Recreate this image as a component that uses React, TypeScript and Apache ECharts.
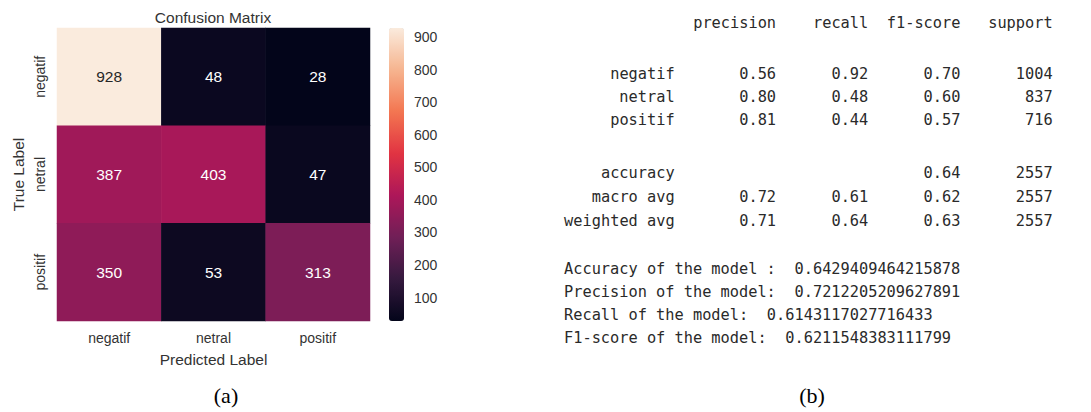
import React, { useEffect, useRef } from "react";
import * as echarts from "echarts";

// ---- Confusion matrix data ----
const classes = ["negatif", "netral", "positif"];
const matrixRows = [
  [928, 48, 28],
  [387, 403, 47],
  [350, 53, 313],
];
const colorbarTicks = [100, 200, 300, 400, 500, 600, 700, 800, 900];
const rocketColors = ["#03051A", "#35193E", "#701F57", "#AD1759", "#E13342", "#F37651", "#F6B48F", "#FAEBDD"];

// ---- Classification report data ----
const reportHeader = ["precision", "recall", "f1-score", "support"];
const classPrecision = [0.56, 0.8, 0.81];
const classRecall = [0.92, 0.48, 0.44];
const classF1 = [0.7, 0.6, 0.57];
const classSupport = [1004, 837, 716];
const summaryNames = ["accuracy", "macro avg", "weighted avg"];
const summaryPrecision: (number | null)[] = [null, 0.72, 0.71];
const summaryRecall: (number | null)[] = [null, 0.61, 0.64];
const summaryF1 = [0.64, 0.62, 0.63];
const summarySupport = [2557, 2557, 2557];
const modelLabels = ["Accuracy of the model :", "Precision of the model:", "Recall of the model:", "F1-score of the model:"];
const modelValues = ["0.6429409464215878", "0.7212205209627891", "0.6143117027716433", "0.6211548383111799"];
const captions = ["(a)", "(b)"];

const SANS = "'Liberation Sans', Arial, sans-serif";
const MONO = "'DejaVu Sans Mono', 'Liberation Mono', monospace";
const SERIF = "'Liberation Serif', 'Times New Roman', serif";
const TXT = "#333333";
const MONO_COLOR = "#2a2a2a";

export default function App() {
  const ref = useRef<HTMLDivElement>(null);

  useEffect(() => {
    document.body.style.margin = "0";
    if (!ref.current) return;
    const chart = echarts.init(ref.current, undefined, { renderer: "svg" });

    const minV = Math.min(...matrixRows.flat());
    const maxV = Math.max(...matrixRows.flat());

    const heatData: any[] = [];
    matrixRows.forEach((row, yi) =>
      row.forEach((v, xi) => {
        heatData.push({
          value: [xi, yi, v],
          label: { color: v > 700 ? "#262626" : "#ffffff" },
        });
      })
    );

    // monospace report layout
    const x0 = 564;
    const cw = 9.22;
    const colX = [12, 23, 33, 43, 53].map((c) => x0 + c * cw);
    const monoFont = `15.3px ${MONO}`;
    const graphics: any[] = [];
    const t = (text: string, x: number, y: number, align: string, font: string, fill: string) =>
      graphics.push({
        type: "text",
        x,
        y,
        silent: true,
        style: { text, font, fill, textAlign: align, textVerticalAlign: "middle", align, verticalAlign: "middle" },
      });

    reportHeader.forEach((h, i) => t(h, colX[i + 1], 23, "right", monoFont, MONO_COLOR));
    const classY = [74, 97, 120];
    classes.forEach((c, i) => {
      const y = classY[i];
      t(c, colX[0], y, "right", monoFont, MONO_COLOR);
      t(classPrecision[i].toFixed(2), colX[1], y, "right", monoFont, MONO_COLOR);
      t(classRecall[i].toFixed(2), colX[2], y, "right", monoFont, MONO_COLOR);
      t(classF1[i].toFixed(2), colX[3], y, "right", monoFont, MONO_COLOR);
      t(String(classSupport[i]), colX[4], y, "right", monoFont, MONO_COLOR);
    });
    const sumY = [173, 197, 221];
    summaryNames.forEach((n, i) => {
      const y = sumY[i];
      t(n, colX[0], y, "right", monoFont, MONO_COLOR);
      const p = summaryPrecision[i];
      const r = summaryRecall[i];
      if (p !== null) t(p.toFixed(2), colX[1], y, "right", monoFont, MONO_COLOR);
      if (r !== null) t(r.toFixed(2), colX[2], y, "right", monoFont, MONO_COLOR);
      t(summaryF1[i].toFixed(2), colX[3], y, "right", monoFont, MONO_COLOR);
      t(String(summarySupport[i]), colX[4], y, "right", monoFont, MONO_COLOR);
    });
    const modelY = [269, 292, 315, 338];
    modelLabels.forEach((l, i) => {
      t(l, x0, modelY[i], "left", monoFont, MONO_COLOR);
      t(modelValues[i], x0 + (l.length + 2) * cw, modelY[i], "left", monoFont, MONO_COLOR);
    });

    // heatmap texts
    t("Confusion Matrix", 213, 17, "center", `15.5px ${SANS}`, TXT);
    t(captions[0], 226, 395, "center", `22px ${SERIF}`, "#000");
    t(captions[1], 812, 395, "center", `22px ${SERIF}`, "#000");

    chart.setOption({
      animation: false,
      backgroundColor: "#ffffff",
      grid: [
        { left: 57, top: 28, width: 313, height: 293 },
        { left: 389, top: 28, width: 15, height: 293 },
      ],
      xAxis: [
        {
          type: "category",
          data: classes,
          gridIndex: 0,
          axisLine: { show: false },
          axisTick: { show: false },
          splitLine: { show: false },
          axisLabel: { color: TXT, fontSize: 14, fontFamily: SANS, margin: 10 },
          name: "Predicted Label",
          nameLocation: "middle",
          nameGap: 30,
          nameTextStyle: { color: TXT, fontSize: 15.5, fontFamily: SANS },
        },
        { type: "value", gridIndex: 1, show: false, min: 0, max: 1 },
      ],
      yAxis: [
        {
          type: "category",
          data: classes,
          inverse: true,
          gridIndex: 0,
          axisLine: { show: false },
          axisTick: { show: false },
          splitLine: { show: false },
          axisLabel: { color: TXT, fontSize: 14, fontFamily: SANS, rotate: 90, margin: 10 },
          name: "True Label",
          nameLocation: "middle",
          nameGap: 31,
          nameTextStyle: { color: TXT, fontSize: 15.5, fontFamily: SANS },
        },
        {
          type: "value",
          gridIndex: 1,
          position: "right",
          min: minV,
          max: maxV,
          axisLine: { show: false },
          splitLine: { show: false },
          axisTick: { show: true, length: 5, customValues: colorbarTicks, lineStyle: { color: TXT, width: 1 } },
          axisLabel: { customValues: colorbarTicks, color: TXT, fontSize: 14, fontFamily: SANS, margin: 10 },
        },
      ],
      visualMap: {
        type: "continuous",
        min: minV,
        max: maxV,
        seriesIndex: 0,
        calculable: false,
        orient: "vertical",
        left: 389,
        top: 28,
        padding: 0,
        itemWidth: 15,
        itemHeight: 293,
        text: ["", ""],
        showLabel: false,
        hoverLink: false,
        inRange: { color: rocketColors },
      },
      series: [
        {
          type: "heatmap",
          xAxisIndex: 0,
          yAxisIndex: 0,
          data: heatData,
          label: { show: true, fontSize: 15.5, fontFamily: SANS, formatter: (p: any) => String(p.value[2]) },
          itemStyle: { borderWidth: 0 },
          emphasis: { disabled: true },
        },
      ],
      graphic: graphics,
    });

    return () => chart.dispose();
  }, []);

  return <div ref={ref} style={{ width: 1091, height: 412 }} />;
}
